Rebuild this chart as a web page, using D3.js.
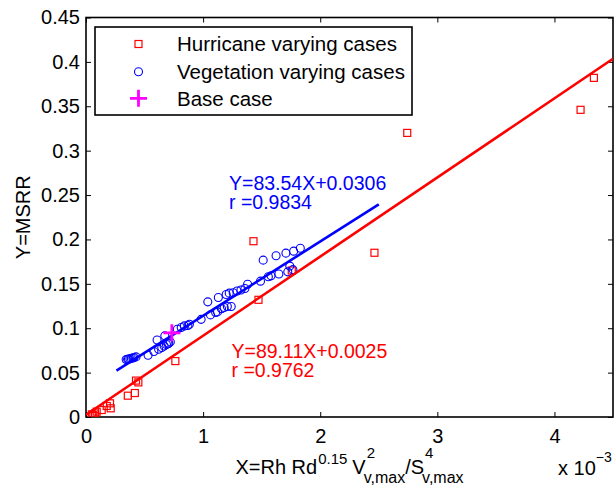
<!DOCTYPE html>
<html>
<head>
<meta charset="utf-8">
<script src="https://cdn.jsdelivr.net/npm/d3@7"></script>
<style>
  body { margin: 0; background: #fff; }
  text { font-family: "Liberation Sans", Arial, Helvetica, sans-serif; }
</style>
</head>
<body>
<svg id="chart" width="614" height="488"></svg>
<script>
// x values are in units of 1e-3
var hurX = [4.337, 4.223, 2.743, 2.463, 1.430, 1.473, 1.757, 0.763, 0.447, 0.427, 0.417, 0.357,
	0.205, 0.211, 0.177, 0.134, 0.091, 0.077, 0.062, 0.077, 0.050];
var hurY = [0.382, 0.346, 0.320, 0.185, 0.198, 0.132, 0.165, 0.063, 0.039, 0.041, 0.027, 0.024,
	0.0154, 0.0098, 0.0124, 0.0079, 0.006, 0.004, 0.002, 0.001, 0.003];

var vegX = [0.343, 0.355, 0.363, 0.375, 0.387, 0.400, 0.410, 0.427, 0.530, 0.580, 0.607, 0.620,
	0.647, 0.667, 0.687, 0.700, 0.707, 0.720, 0.673, 0.780, 0.813, 0.840, 0.883, 0.870, 0.983,
	1.040, 1.063, 1.107, 1.123, 1.130, 1.157, 1.180, 1.207, 1.240, 1.197, 1.223, 1.257, 1.290,
	1.323, 1.357, 1.380, 1.490, 1.513, 1.557, 1.580, 1.623, 1.647, 1.707, 1.723, 1.740, 1.773,
	1.830, 1.767];
var vegY = [0.0647, 0.0650, 0.0652, 0.0655, 0.0660, 0.0665, 0.0670, 0.0677, 0.0695, 0.0737, 0.0868, 0.0763,
	0.0782, 0.0800, 0.0816, 0.0825, 0.0831, 0.0846, 0.0914, 0.0989, 0.1008, 0.1026, 0.1045, 0.1030, 0.1100,
	0.1297, 0.1150, 0.1177, 0.1184, 0.1346, 0.1220, 0.1233, 0.1244, 0.1244, 0.1380, 0.1395, 0.1400, 0.1420,
	0.1430, 0.1447, 0.1496, 0.1530, 0.1767, 0.1580, 0.1590, 0.1816, 0.1610, 0.1846, 0.1635, 0.1700, 0.1868,
	0.1900, 0.1660];

var baseX = [0.733];
var baseY = [0.0948];

// regression lines: Y = slope * X + icpt (X real units)
var redFit = { slope: 89.11, icpt: 0.0025, from: 0, to: 4.5, text: ["Y=89.11X+0.0025", "r =0.9762"] };
var blueFit = { slope: 83.54, icpt: 0.0306, from: 0.26, to: 2.5, text: ["Y=83.54X+0.0306", "r =0.9834"] };

var xTicks = [0, 1, 2, 3, 4];
var yTicks = [0, 0.05, 0.1, 0.15, 0.2, 0.25, 0.3, 0.35, 0.4, 0.45];
var yTickLabels = ["0", "0.05", "0.1", "0.15", "0.2", "0.25", "0.3", "0.35", "0.4", "0.45"];
var legendNames = ["Hurricane varying cases", "Vegetation varying cases", "Base case"];

var RED = "#ff0000", BLUE = "#0000ff", MAG = "#ff00ff";

var svg = d3.select("#chart");
var margin = { left: 86, top: 17.5, right: 1, bottom: 71 };
var width = 614 - margin.left - margin.right,
	height = 488 - margin.top - margin.bottom;

svg.append("rect").attr("width", 614).attr("height", 488).attr("fill", "#fff");

var x = d3.scaleLinear().domain([0, 4.5]).range([0, width]);
var y = d3.scaleLinear().domain([0, 0.45]).range([height, 0]);

var g = svg.append("g").attr("transform", "translate(" + margin.left + "," + margin.top + ")");

g.append("clipPath").attr("id", "clip")
	.append("rect").attr("width", width).attr("height", height);

function styleAxis(sel) {
	sel.select(".domain").remove();
	sel.selectAll("line").attr("stroke", "#000").attr("stroke-width", 1);
	sel.selectAll("text").attr("font-size", 20).attr("fill", "#000")
		.attr("font-family", "'Liberation Sans', Arial, sans-serif");
}

g.append("g").attr("transform", "translate(0," + height + ")")
	.call(d3.axisBottom(x).tickValues(xTicks).tickSize(-5).tickPadding(12).tickFormat(d3.format("d")))
	.call(styleAxis);
g.append("g")
	.call(d3.axisTop(x).tickValues(xTicks).tickSize(-5).tickFormat(""))
	.call(styleAxis);
g.append("g")
	.call(d3.axisLeft(y).tickValues(yTicks).tickSize(-5).tickPadding(6)
		.tickFormat(function(d, i) { return yTickLabels[i]; }))
	.call(styleAxis);
g.append("g").attr("transform", "translate(" + width + ",0)")
	.call(d3.axisRight(y).tickValues(yTicks).tickSize(-5).tickFormat(""))
	.call(styleAxis);

g.append("rect").attr("width", width).attr("height", height)
	.attr("fill", "none").attr("stroke", "#000").attr("stroke-width", 1.6);

// markers
var plot = g.append("g").attr("clip-path", "url(#clip)");

var sq = 7;
plot.selectAll("rect.hur").data(d3.range(hurX.length)).enter()
	.append("rect").attr("class", "hur")
	.attr("x", function(i) { return x(hurX[i]) - sq / 2; })
	.attr("y", function(i) { return y(hurY[i]) - sq / 2; })
	.attr("width", sq).attr("height", sq)
	.attr("fill", "none").attr("stroke", RED).attr("stroke-width", 1.2);

plot.selectAll("circle.veg").data(d3.range(vegX.length)).enter()
	.append("circle").attr("class", "veg")
	.attr("cx", function(i) { return x(vegX[i]); })
	.attr("cy", function(i) { return y(vegY[i]); })
	.attr("r", 4)
	.attr("fill", "none").attr("stroke", BLUE).attr("stroke-width", 1.1);

function fitPath(fit) {
	return d3.line()
		.x(function(d) { return x(d); })
		.y(function(d) { return y(fit.slope * d * 1e-3 + fit.icpt); })([fit.from, fit.to]);
}

plot.append("path").attr("d", fitPath(redFit))
	.attr("stroke", RED).attr("stroke-width", 2.6).attr("fill", "none");
plot.append("path").attr("d", fitPath(blueFit))
	.attr("stroke", BLUE).attr("stroke-width", 2.6).attr("fill", "none");

function plus(sel, cx, cy, s) {
	sel.append("path")
		.attr("d", "M" + (cx - s / 2) + "," + cy + "H" + (cx + s / 2) + "M" + cx + "," + (cy - s / 2) + "V" + (cy + s / 2))
		.attr("stroke", MAG).attr("stroke-width", 2.8).attr("fill", "none");
}
baseX.forEach(function(bx, i) { plus(plot, x(bx), y(baseY[i]), 17); });

// fit annotations
function annotate(fit, px, py, color) {
	var t = g.append("text").attr("x", px).attr("y", py)
		.attr("font-size", 19.5).attr("fill", color);
	t.append("tspan").attr("x", px).text(fit.text[0]);
	t.append("tspan").attr("x", px).attr("dy", 19).text(fit.text[1]);
}
annotate(blueFit, 229 - margin.left, 189.5 - margin.top, BLUE);
annotate(redFit, 231.5 - margin.left, 358 - margin.top, RED);

// legend
var lg = g.append("g").attr("transform", "translate(" + (95 - margin.left) + "," + (27 - margin.top) + ")");
lg.append("rect").attr("width", 317).attr("height", 88)
	.attr("fill", "#fff").attr("stroke", "#000").attr("stroke-width", 1.6);
var rowY = [17, 44.7, 71.3];
lg.append("rect").attr("x", 43.5 - sq / 2).attr("y", rowY[0] - sq / 2).attr("width", sq).attr("height", sq)
	.attr("fill", "none").attr("stroke", RED).attr("stroke-width", 1.2);
lg.append("circle").attr("cx", 43.5).attr("cy", rowY[1]).attr("r", 4)
	.attr("fill", "none").attr("stroke", BLUE).attr("stroke-width", 1.1);
plus(lg, 43.5, rowY[2], 17);
lg.selectAll("text.name").data(legendNames).enter()
	.append("text").attr("class", "name")
	.attr("x", 82).attr("y", function(d, i) { return rowY[i] + 7.3; })
	.attr("font-size", 20.5).attr("fill", "#000")
	.text(function(d) { return d; });

// axis labels
svg.append("text")
	.attr("transform", "translate(30," + (margin.top + height / 2) + ") rotate(-90)")
	.attr("text-anchor", "middle").attr("font-size", 20).attr("fill", "#000")
	.text("Y=MSRR");

// x label with super/subscripts, laid out piece by piece
var xlabPieces = [
	{ t: "X=Rh Rd", s: 20, sh: 0 },
	{ t: "0.15", s: 15, sh: -10, pad: 1 },
	{ t: "V", s: 20, sh: 0, pad: 5 },
	{ t: "2", s: 15, sh: -16, sup: true },
	{ t: "v,max", s: 16, sh: 9, sub: true },
	{ t: "/S", s: 20, sh: 0 },
	{ t: "4", s: 15, sh: -16, sup: true },
	{ t: "v,max", s: 16, sh: 9, sub: true }
];
var xl = svg.append("g");
var cursor = 0, baseLine = 474, stackStart = null, stackW = 0;
xlabPieces.forEach(function(p) {
	if (p.pad) cursor += p.pad;
	var px = cursor;
	if (p.sup) { stackStart = cursor; px = cursor + 1; }
	if (p.sub) { px = stackStart - 2; }
	var t = xl.append("text").attr("x", px).attr("y", baseLine + p.sh)
		.attr("font-size", p.s).attr("fill", "#000").text(p.t);
	var w = t.node().getComputedTextLength();
	if (p.sup) { stackW = w + 1; }
	else if (p.sub) { cursor = Math.max(stackStart + stackW, px + w); stackStart = null; }
	else cursor = px + w;
});
var xlW = cursor;
xl.attr("transform", "translate(" + (margin.left + width / 2 - xlW / 2) + ",0)");

// exponent note
var ex = svg.append("text").attr("x", 558).attr("y", 475).attr("font-size", 20).attr("fill", "#000");
ex.append("tspan").text("x 10");
ex.append("tspan").attr("font-size", 14).attr("dy", -13).text("\u22123");
</script>
</body>
</html>
